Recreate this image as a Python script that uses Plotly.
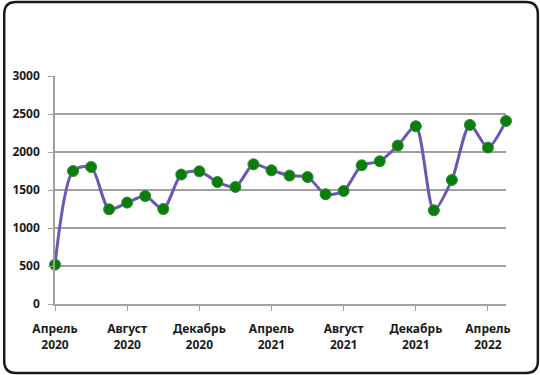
import plotly.graph_objects as go

months = ["Апрель 2020", "Май 2020", "Июнь 2020", "Июль 2020", "Август 2020", "Сентябрь 2020",
          "Октябрь 2020", "Ноябрь 2020", "Декабрь 2020", "Январь 2021", "Февраль 2021", "Март 2021",
          "Апрель 2021", "Май 2021", "Июнь 2021", "Июль 2021", "Август 2021", "Сентябрь 2021",
          "Октябрь 2021", "Ноябрь 2021", "Декабрь 2021", "Январь 2022", "Февраль 2022", "Март 2022",
          "Апрель 2022", "Май 2022"]
values = [518, 1750, 1803, 1246, 1334, 1421, 1250, 1703, 1746, 1605, 1540, 1838,
          1759, 1690, 1671, 1444, 1487, 1825, 1878, 2084, 2339, 1233, 1632, 2356, 2058, 2408]
tick_months = ["Апрель 2020", "Август 2020", "Декабрь 2020", "Апрель 2021",
               "Август 2021", "Декабрь 2021", "Апрель 2022"]
tick_text = ["Апрель<br>2020", "Август<br>2020", "Декабрь<br>2020", "Апрель<br>2021",
             "Август<br>2021", "Декабрь<br>2021", "Апрель<br>2022"]
y_ticks = [0, 500, 1000, 1500, 2000, 2500, 3000]

W, H = 540, 375
L, R, T, B = 53, 34, 76, 71
pw, ph = W - L - R, H - T - B

fig = go.Figure()
fig.add_trace(go.Scatter(
    x=months, y=values, mode="lines+markers",
    line=dict(color="#6A56B6", width=3, shape="spline", smoothing=0.75),
    marker=dict(color="#0A7D0A", size=11, line=dict(color="#2E8B2E", width=1)),
    cliponaxis=False, showlegend=False, hoverinfo="x+y"))

def px(x):
    return (x - L) / pw

def py(y):
    return (H - B - y) / ph

x0, x1, y0, y1, r = 2, 538, 2, 373, 12
path = (f"M {px(x0 + r)} {py(y0)} L {px(x1 - r)} {py(y0)} "
        f"Q {px(x1)} {py(y0)} {px(x1)} {py(y0 + r)} "
        f"L {px(x1)} {py(y1 - r)} Q {px(x1)} {py(y1)} {px(x1 - r)} {py(y1)} "
        f"L {px(x0 + r)} {py(y1)} Q {px(x0)} {py(y1)} {px(x0)} {py(y1 - r)} "
        f"L {px(x0)} {py(y0 + r)} Q {px(x0)} {py(y0)} {px(x0 + r)} {py(y0)} Z")
fig.add_shape(type="path", path=path, xref="paper", yref="paper",
              line=dict(color="#1a1a1a", width=2.5), layer="below")

tfont = dict(family="Noto Sans, sans-serif", size=12, color="#1a1a1a", weight="bold")
fig.update_layout(
    width=W, height=H, margin=dict(l=L, r=R, t=T, b=B),
    paper_bgcolor="white", plot_bgcolor="white",
    font=dict(family="Noto Sans, sans-serif", size=12, color="#1a1a1a"),
    xaxis=dict(type="category", categoryorder="array", categoryarray=months,
               range=[0, len(months) - 1], tickmode="array", tickvals=tick_months,
               ticktext=tick_text, showgrid=False, showline=True, linecolor="#A0A0A0",
               linewidth=1.5, ticks="outside", ticklen=5, tickcolor="#A0A0A0",
               ticklabelstandoff=8, tickfont=tfont, zeroline=False, fixedrange=True),
    yaxis=dict(range=[0, 3000], tickvals=y_ticks, showgrid=True, gridcolor="#A0A0A0",
               gridwidth=1.5, showline=True, linecolor="#A0A0A0", linewidth=1.5,
               ticks="outside", ticklen=5, tickcolor="#A0A0A0", zeroline=False,
               ticklabelstandoff=6, tickfont=tfont, fixedrange=True),
)
fig.write_html("out.html", config={"displayModeBar": False},
               post_script="document.body.style.margin='0';document.body.style.overflow='hidden';")
